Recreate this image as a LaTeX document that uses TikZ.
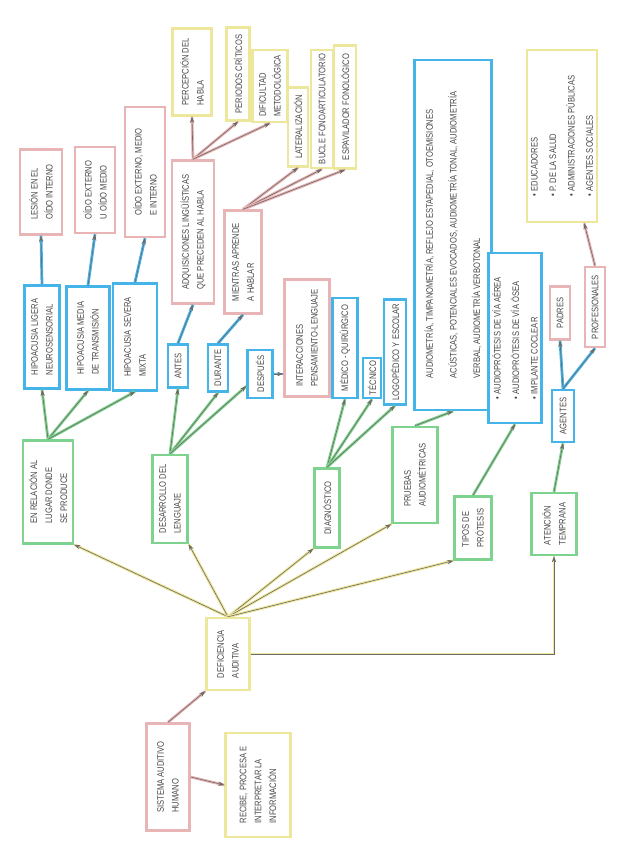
\documentclass[tikz,border=0pt]{standalone}
\usepackage{fontspec}
\usepackage{xcolor}
\usepackage{tikz}
\usetikzlibrary{arrows.meta}
\newfontfamily\hand{Liberation Sans}[FakeStretch=0.8]
\definecolor{pencil}{HTML}{6E6A66}
\definecolor{ink}{HTML}{4A4846}
\definecolor{markPink}{HTML}{E8B4B6}
\definecolor{markBlue}{HTML}{45B4E8}
\definecolor{markGreen}{HTML}{7ED48E}
\definecolor{markYellow}{HTML}{EDE79C}
\tikzset{
  box/.style={rotate=90, draw=#1, line width=1.4pt, fill=white, align=left,
    font=\hand\fontsize{5.4}{8.5}\selectfont, text=ink, inner sep=1.5pt},
  pinkBox/.style={box=markPink},
  blueBox/.style={box=markBlue},
  greenBox/.style={box=markGreen},
  yellowBox/.style={box=markYellow},
  sz/.style 2 args={minimum height=#1*0.02cm, minimum width=#2*0.02cm},
  link/.style={draw=pencil, line width=0.35pt, -{Stealth[length=3.5pt,width=2.5pt]},
    preaction={draw=#1, line width=1.6pt, -}}
}

\begin{document}
\begin{tikzpicture}[x=0.02cm, y=-0.02cm]
  \useasboundingbox (0,0) rectangle (617,848);

  % root
  \node[pinkBox, sz={43}{107}] (sis) at (168,777) {SISTEMA AUDITIVO\\ HUMANO};
  \node[yellowBox, sz={65}{104}] (rec) at (258,785) {RECIBE, PROCESA E\\ INTERPRETAR LA\\ INFORMACIÓN};
  \node[yellowBox, sz={43}{72}] (def) at (228,654) {DEFICIENCIA\\ AUDITIVA};

  % second level
  \node[greenBox, sz={50}{103}] (rel) at (48,492) {EN RELACIÓN AL\\ LUGAR DONDE\\ SE PRODUCE};
  \node[greenBox, sz={35}{88}] (des) at (170,499) {DESARROLLO DEL\\ LENGUAJE};
  \node[greenBox, sz={25}{79}] (dia) at (327,508) {DIAGNÓSTICO};
  \node[greenBox, sz={45}{96}] (pru) at (415,475) {PRUEBAS\\ AUDIOMÉTRICAS};
  \node[greenBox, sz={37}{63}] (tip) at (473,528) {TIPOS DE\\ PRÓTESIS};
  \node[greenBox, sz={45}{62}] (ate) at (554,524) {ATENCIÓN\\ TEMPRANA};

  % hipoacusias
  \node[blueBox, sz={35}{103}] (hl) at (42,337) {HIPOACUSIA LIGERA\\ NEUROSENSORIAL};
  \node[blueBox, sz={43}{103}] (hm) at (88,338) {HIPOACUSIA MEDIA\\ DE TRANSMISIÓN};
  \node[blueBox, sz={44}{107}] (hs) at (135,337) {HIPOACUSIA SEVERA\\ MIXTA};
  \node[pinkBox, sz={42}{85}] (les) at (41,192) {LESIÓN EN EL\\ OÍDO INTERNO};
  \node[pinkBox, sz={40}{86}] (oem) at (95,190) {OÍDO EXTERNO\\ U OÍDO MEDIO};
  \node[pinkBox, sz={40}{130}] (omi) at (145,172) {OÍDO EXTERNO, MEDIO\\ E INTERNO};

  % desarrollo del lenguaje
  \node[blueBox, sz={20}{43}] (ant) at (178,366) {ANTES};
  \node[blueBox, sz={20}{47}] (dur) at (218,368) {DURANTE};
  \node[blueBox, sz={25}{48}] (dsp) at (260,374) {DESPUÉS};
  \node[pinkBox, sz={42}{143}] (adq) at (193,232) {ADQUISICIONES LINGÜÍSTICAS\\ QUE PRECEDEN AL HABLA};
  \node[pinkBox, sz={37}{103}] (mie) at (243,262) {MIENTRAS APRENDE\\ A HABLAR};
  \node[pinkBox, sz={45}{117}] (int) at (307,338) {INTERACCIONES\\ PENSAMIENTO-LENGUAJE};
  \node[yellowBox, sz={39}{87}] (per) at (192,72) {PERCEPCIÓN DEL\\ HABLA};
  \node[yellowBox, sz={23}{93}] (pcr) at (238,74) {PERIODOS CRÍTICOS};
  \node[yellowBox, sz={35}{72}] (dif) at (270,86) {DIFICULTAD\\ METODOLÓGICA};
  \node[yellowBox, sz={20}{79}] (lat) at (298,127) {LATERALIZACIÓN};
  \node[yellowBox, sz={22}{118}] (buc) at (322,109) {BUCLE FONOARTICULATORIO};
  \node[yellowBox, sz={22}{123}] (esp) at (345,107) {ESPAVILADOR FONOLÓGICO};

  % diagnostico, pruebas, protesis
  \node[blueBox, sz={25}{100}] (med) at (345,348) {MÉDICO - QUIRÚRGICO};
  \node[blueBox, sz={18}{40}] (tec) at (372,378) {TÉCNICO};
  \node[blueBox, sz={22}{105}] (log) at (395,352) {LOGOPÉDICO Y ESCOLAR};
  \node[blueBox, sz={77}{350}] (aud) at (453,235)
    {AUDIOMETRÍA, TIMPANOMETRÍA, REFLEJO ESTAPEDIAL, OTOEMISIONES\\[5pt]
     ACÚSTICAS, POTENCIALES EVOCADOS, AUDIOMETRÍA TONAL, AUDIOMETRÍA\\[5pt]
     VERBAL, AUDIOMETRÍA VERBOTONAL};
  \node[blueBox, sz={53}{170}] (pro) at (515,338)
    {• AUDIOPRÓTESIS DE VÍA AÉREA\\[2pt] • AUDIOPRÓTESIS DE VÍA ÓSEA\\[2pt] • IMPLANTE COCLEAR};

  % atencion temprana
  \node[blueBox, sz={22}{52}] (age) at (563,416) {AGENTES};
  \node[pinkBox, sz={20}{53}] (pad) at (560,313) {PADRES};
  \node[pinkBox, sz={20}{80}] (prf) at (595,307) {PROFESIONALES};
  \node[yellowBox, sz={70}{172}] (lis) at (562,136)
    {• EDUCADORES\\[2pt] • P. DE LA SALUD\\[2pt] • ADMINISTRACIONES PÚBLICAS\\[2pt] • AGENTES SOCIALES};

  % connectors
  \draw[link=markPink] (sis.east) -- (def.north west);
  \draw[link=markPink] (sis.south) -- (rec.north);

  \draw[link=markYellow] (def.east) -- (rel.south west);
  \draw[link=markYellow] (def.east) -- (des.south west);
  \draw[link=markYellow] (def.east) -- (dia.north west);
  \draw[link=markYellow] (def.east) -- (pru.north west);
  \draw[link=markYellow] (def.east) -- (tip.north west);
  \draw[link=markYellow] (def.south) -| (ate.west);

  \draw[link=markGreen] (rel.east) -- (hl.west);
  \draw[link=markGreen] (rel.east) -- (hm.west);
  \draw[link=markGreen] (rel.east) -- (hs.west);
  \draw[link=markGreen] (des.east) -- (ant.west);
  \draw[link=markGreen] (des.east) -- (dur.west);
  \draw[link=markGreen] (des.east) -- (dsp);
  \draw[link=markGreen] (dia.east) -- (med.west);
  \draw[link=markGreen] (dia.east) -- (tec.west);
  \draw[link=markGreen] (dia.east) -- (log.west);
  \draw[link=markGreen] (pru.east) -- (aud.west);
  \draw[link=markGreen] (tip.east) -- (pro.west);
  \draw[link=markGreen] (ate.east) -- (age.west);

  \draw[link=markBlue] (hl.east) -- (les.west);
  \draw[link=markBlue] (hm.east) -- (oem.west);
  \draw[link=markBlue] (hs.east) -- (omi.west);
  \draw[link=markBlue] (ant.east) -- (adq.west);
  \draw[link=markBlue] (dur.east) -- (mie.west);
  \draw[link=markBlue] (dsp.south) -- (dsp.south -| int.north);
  \draw[link=markBlue] (age.east) -- (pad.west);
  \draw[link=markBlue] (age.east) -- (prf.west);

  \draw[link=markPink] (adq.east) -- (per.west);
  \draw[link=markPink] (adq.east) -- (pcr.west);
  \draw[link=markPink] (adq.east) -- (dif.west);
  \draw[link=markPink] (mie.east) -- (lat.west);
  \draw[link=markPink] (mie.east) -- (buc.west);
  \draw[link=markPink] (mie.east) -- (esp.west);
  \draw[link=markPink] (prf.east) -- (lis);
\end{tikzpicture}
\end{document}
